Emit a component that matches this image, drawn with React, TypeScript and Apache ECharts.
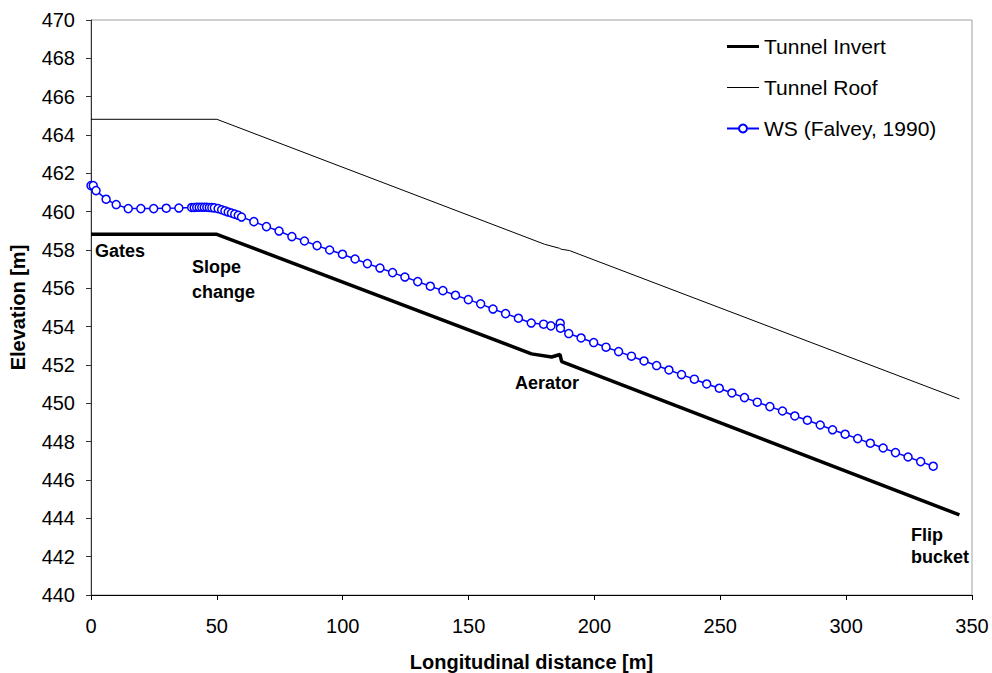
import React, { useEffect, useRef } from "react";
import * as echarts from "echarts";

const invertX = [0, 50, 175, 183, 186.3, 187, 345];
const invertY = [458.82, 458.82, 452.58, 452.42, 452.55, 452.18, 444.18];

const roofX = [0, 50, 180.2, 186.1, 186.8, 190.1, 345];
const roofY = [464.82, 464.82, 458.3, 458.09, 458.04, 457.97, 450.23];

const wsX = [
  0, 0.9, 2, 6, 10, 14.8, 19.8, 24.9, 29.9, 34.9,
  40, 41, 42, 43, 44, 45, 46, 47, 48, 49,
  50.5, 51.9, 53.2, 54.5, 55.8, 57.1, 58.5, 59.8, 64.7, 69.7,
  74.7, 79.8, 84.8, 89.8, 94.8, 99.9, 104.9, 109.8, 114.8, 119.8,
  124.7, 129.8, 134.8, 139.8, 144.8, 149.9, 154.8, 159.7, 164.7, 169.8,
  174.9, 179.8, 182.7, 186.4, 186.5, 189.8, 194.7, 199.7, 204.6, 209.6,
  214.7, 219.7, 224.7, 229.6, 234.6, 239.7, 244.6, 249.6, 254.6, 259.6,
  264.7, 269.7, 274.7, 279.6, 284.6, 289.7, 294.6, 299.6, 304.6, 309.6,
  314.7, 319.6, 324.6, 329.6, 334.6,
];
const wsY = [
  461.36, 461.36, 461.1, 460.65, 460.37, 460.16, 460.16, 460.16, 460.18, 460.19,
  460.22, 460.22, 460.23, 460.23, 460.23, 460.23, 460.23, 460.22, 460.21, 460.2,
  460.16, 460.1, 460.04, 459.98, 459.93, 459.87, 459.81, 459.72, 459.48, 459.22,
  458.99, 458.7, 458.47, 458.23, 458.0, 457.78, 457.53, 457.29, 457.06, 456.82,
  456.59, 456.35, 456.11, 455.88, 455.64, 455.41, 455.19, 454.92, 454.68, 454.44,
  454.19, 454.13, 454.04, 454.18, 453.92, 453.64, 453.41, 453.17, 452.93, 452.7,
  452.46, 452.21, 451.97, 451.74, 451.5, 451.26, 451.01, 450.79, 450.54, 450.3,
  450.06, 449.83, 449.6, 449.34, 449.12, 448.87, 448.62, 448.39, 448.16, 447.92,
  447.67, 447.43, 447.2, 446.96, 446.72,
];

const seriesNames = ["Tunnel Invert", "Tunnel Roof", "WS (Falvey, 1990)"];

// annotation positions in page pixels (left edge, vertical centre)
const annotations = [
  { text: "Gates", x: 95, y: 252 },
  { text: "Slope", x: 192, y: 268 },
  { text: "change", x: 192, y: 293 },
  { text: "Aerator", x: 515, y: 384 },
  { text: "Flip", x: 911, y: 536 },
  { text: "bucket", x: 911, y: 558 },
];

const FONT = "'Liberation Sans', Arial, sans-serif";
const W = 992;
const H = 673;

export default function App() {
  const ref = useRef<HTMLDivElement>(null);
  useEffect(() => {
    if (!ref.current) return;
    const chart = echarts.init(ref.current, undefined, { renderer: "svg" });
    const zip = (xs: number[], ys: number[]) => xs.map((x, i) => [x, ys[i]]);
    chart.setOption({
      animation: false,
      backgroundColor: "#fff",
      textStyle: { fontFamily: FONT },
      grid: {
        left: 91,
        right: W - 972,
        top: 20,
        bottom: H - 595,
        show: true,
        borderColor: "#a0a0a0",
        borderWidth: 1,
        containLabel: false,
        outerBoundsMode: "none",
      },
      legend: {
        orient: "vertical",
        left: 726 - 5,
        top: 47 - 5 - 11,
        itemGap: 20,
        itemWidth: 32,
        itemHeight: 10,
        data: [
          { name: seriesNames[0], icon: "path://M0,0L32,0L32,3L0,3Z" },
          { name: seriesNames[1], icon: "path://M0,0L32,0L32,1L0,1Z" },
          { name: seriesNames[2] },
        ],
        textStyle: { fontFamily: FONT, fontSize: 21, color: "#000" },
      },
      xAxis: {
        type: "value",
        min: 0,
        max: 350,
        interval: 50,
        name: "Longitudinal distance [m]",
        nameLocation: "middle",
        nameGap: 57,
        nameTextStyle: { fontFamily: FONT, fontSize: 20, fontWeight: "bold", color: "#000" },
        axisLine: { show: true, onZero: false, lineStyle: { color: "#000", width: 1 } },
        axisTick: { show: true, inside: false, length: 5, lineStyle: { color: "#000" } },
        axisLabel: { fontFamily: FONT, fontSize: 20, color: "#000", margin: 21 },
        splitLine: { show: false },
      },
      yAxis: {
        type: "value",
        min: 440,
        max: 470,
        interval: 2,
        name: "Elevation [m]",
        nameLocation: "middle",
        nameGap: 63,
        nameTextStyle: { fontFamily: FONT, fontSize: 20, fontWeight: "bold", color: "#000" },
        axisLine: { show: true, onZero: false, lineStyle: { color: "#333", width: 1 } },
        axisTick: { show: true, inside: false, length: 5, lineStyle: { color: "#333" } },
        axisLabel: { fontFamily: FONT, fontSize: 20, color: "#000", margin: 16 },
        splitLine: { show: false },
      },
      series: [
        {
          name: seriesNames[0],
          type: "line",
          data: zip(invertX, invertY),
          showSymbol: false,
          symbol: "none",
          lineStyle: { color: "#000", width: 3.5 },
          itemStyle: { color: "#000" },
          z: 3,
        },
        {
          name: seriesNames[1],
          type: "line",
          data: zip(roofX, roofY),
          showSymbol: false,
          symbol: "none",
          lineStyle: { color: "#000", width: 1 },
          itemStyle: { color: "#000" },
          z: 2,
        },
        {
          name: seriesNames[2],
          type: "line",
          data: zip(wsX, wsY),
          symbol: "circle",
          symbolSize: 8,
          showAllSymbol: true,
          lineStyle: { color: "#0000ff", width: 1.5 },
          itemStyle: { color: "#fff", borderColor: "#0000ff", borderWidth: 1.5 },
          z: 4,
        },
      ],
      graphic: annotations.map((a) => ({
        type: "text",
        left: a.x,
        top: a.y - 10,
        style: {
          text: a.text,
          fontFamily: FONT,
          fontSize: 18,
          fontWeight: "bold",
          fill: "#000",
        },
        z: 10,
      })),
    });
    return () => chart.dispose();
  }, []);
  return (
    <div
      ref={ref}
      style={{ position: "fixed", left: 0, top: 0, width: W, height: H }}
    />
  );
}
